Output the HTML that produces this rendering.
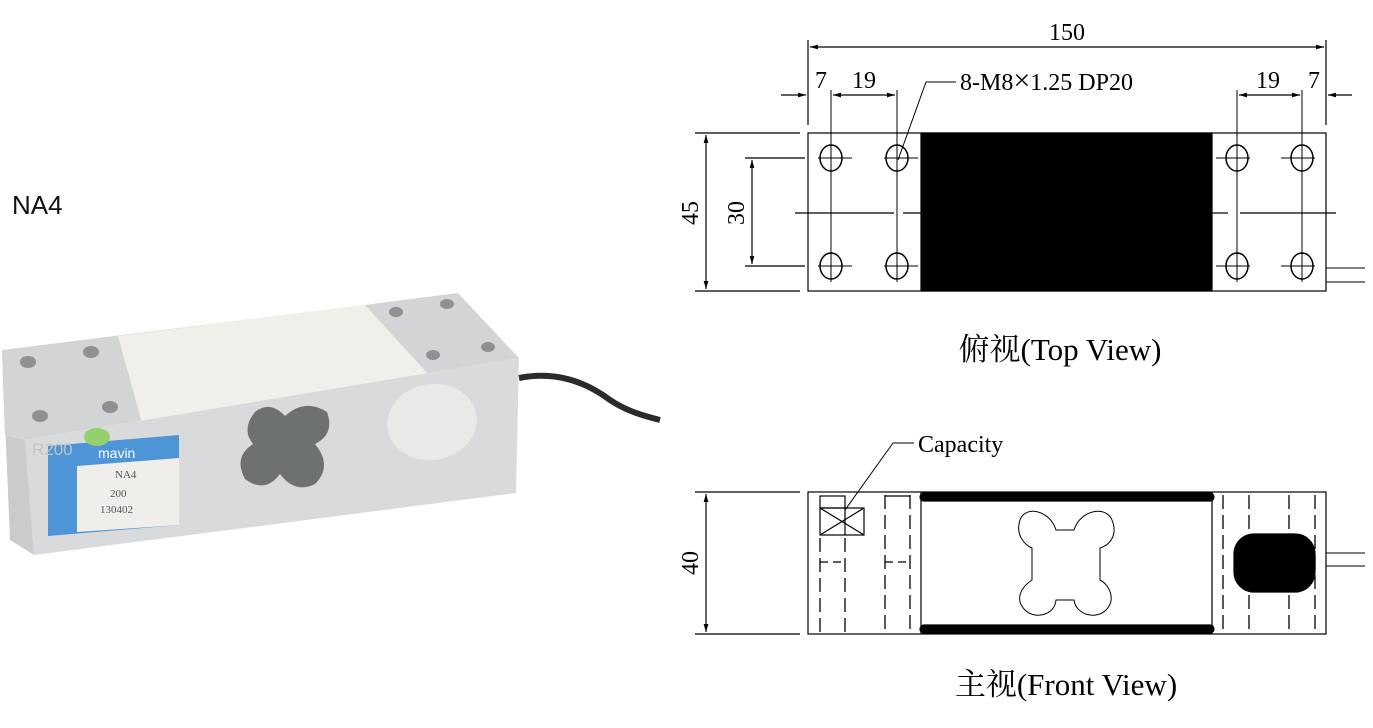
<!DOCTYPE html>
<html><head><meta charset="utf-8"><style>
html,body{margin:0;padding:0;background:#fff;}
svg{display:block;}
</style></head><body>
<svg width="1373" height="728" viewBox="0 0 1373 728" xmlns="http://www.w3.org/2000/svg">
<defs>
<marker id="a" viewBox="0 0 10 10" refX="10" refY="5" markerWidth="12" markerHeight="8" orient="auto-start-reverse" markerUnits="userSpaceOnUse"><path d="M0,2 L10,5 L0,8 z" fill="#000"/></marker>
</defs>
<text x="12" y="214" font-family="Liberation Sans, sans-serif" font-size="26" fill="#111">NA4</text>

<!-- photo -->
<g>
<path d="M519,378 C560,370 590,385 610,400 C625,410 640,415 660,420" stroke="#2a2c2c" stroke-width="6" fill="none"/>
<polygon points="2,350 114,336 365,305 458,293 519,358 25,440 5,435" fill="#d3d4d6"/>
<polygon points="118,336 365,305 430,376 145,434" fill="#f1efea"/>
<polygon points="25,440 519,358 516,493 34,555" fill="#d9dadc"/>
<polygon points="2,350 5,435 25,440 34,555 10,540" fill="#cacbcd"/>
<g fill="#8e9094"><ellipse cx="28" cy="362" rx="8" ry="6"/><ellipse cx="91" cy="352" rx="8" ry="6"/><ellipse cx="40" cy="416" rx="8" ry="6"/><ellipse cx="110" cy="407" rx="8" ry="6"/><ellipse cx="396" cy="312" rx="7" ry="5"/><ellipse cx="447" cy="304" rx="7" ry="5"/><ellipse cx="433" cy="355" rx="7" ry="5"/><ellipse cx="488" cy="347" rx="7" ry="5"/></g>
<polygon points="48,446 179,435 179,525 48,536" fill="#4d95d6"/>
<polygon points="77,466 179,458 179,525 77,532" fill="#efeeea"/>
<text x="98" y="458" font-family="Liberation Sans, sans-serif" font-size="14" fill="#fff">mavin</text>
<text x="115" y="478" font-family="Liberation Serif, serif" font-size="11" fill="#555">NA4</text>
<text x="110" y="497" font-family="Liberation Serif, serif" font-size="11" fill="#555">200</text>
<text x="100" y="513" font-family="Liberation Serif, serif" font-size="11" fill="#555">130402</text>
<text x="32" y="455" font-family="Liberation Sans, sans-serif" font-size="17" fill="#c2c3c5">R200</text>
<ellipse cx="97" cy="437" rx="13" ry="9" fill="#93cf6d"/>
<path d="M255,412 q15,-12 30,4 q20,-18 42,-4 q8,22 -12,32 q18,22 0,40 q-20,10 -35,-10 q-15,20 -35,5 q-12,-22 8,-35 q-12,-15 2,-32z" fill="#6d716f"/>
<ellipse cx="432" cy="422" rx="45" ry="38" fill="#e9e9e8" transform="rotate(-10 432 422)"/>
</g>

<g stroke="#000" fill="none" stroke-width="1.2" font-family="Liberation Serif, serif">
<!-- top view -->
<rect x="808" y="133" width="518" height="158"/>
<rect x="921" y="133" width="291" height="158" fill="#000"/>
<line x1="795" y1="213" x2="894" y2="213"/><line x1="903" y1="213" x2="921" y2="213"/>
<line x1="1212" y1="213" x2="1228" y2="213"/><line x1="1240" y1="213" x2="1336" y2="213"/>
<g stroke-width="1.5">
<ellipse cx="831" cy="158" rx="11" ry="13"/><ellipse cx="897" cy="158" rx="11" ry="13"/>
<ellipse cx="831" cy="266" rx="11" ry="13"/><ellipse cx="897" cy="266" rx="11" ry="13"/>
<ellipse cx="1237" cy="158" rx="11" ry="13"/><ellipse cx="1302" cy="158" rx="11" ry="13"/>
<ellipse cx="1237" cy="266" rx="11" ry="13"/><ellipse cx="1302" cy="266" rx="11" ry="13"/>
</g>
<g stroke-width="1">
<line x1="818" y1="158" x2="852" y2="158"/><line x1="884" y1="158" x2="918" y2="158"/>
<line x1="818" y1="266" x2="852" y2="266"/><line x1="884" y1="266" x2="918" y2="266"/>
<line x1="1216" y1="158" x2="1250" y2="158"/><line x1="1281" y1="158" x2="1315" y2="158"/>
<line x1="1216" y1="266" x2="1250" y2="266"/><line x1="1281" y1="266" x2="1315" y2="266"/>
<line x1="831" y1="90" x2="831" y2="282"/><line x1="897" y1="90" x2="897" y2="282"/>
<line x1="1237" y1="90" x2="1237" y2="282"/><line x1="1302" y1="90" x2="1302" y2="282"/>
</g>
<line x1="808" y1="40" x2="808" y2="125"/><line x1="1326" y1="40" x2="1326" y2="125"/>
<line x1="810" y1="47" x2="1324" y2="47" marker-start="url(#a)" marker-end="url(#a)"/>
<line x1="781" y1="95" x2="806" y2="95" marker-end="url(#a)"/>
<line x1="833" y1="95" x2="895" y2="95" marker-start="url(#a)" marker-end="url(#a)"/>
<line x1="1239" y1="95" x2="1300" y2="95" marker-start="url(#a)" marker-end="url(#a)"/>
<line x1="1352" y1="95" x2="1328" y2="95" marker-end="url(#a)"/>
<polyline points="898,160 926,82 956,82" stroke-width="1"/>
<line x1="695" y1="133" x2="800" y2="133"/><line x1="695" y1="291" x2="800" y2="291"/>
<line x1="706" y1="135" x2="706" y2="289" marker-start="url(#a)" marker-end="url(#a)"/>
<line x1="745" y1="158" x2="805" y2="158"/><line x1="745" y1="266" x2="805" y2="266"/>
<line x1="752" y1="160" x2="752" y2="264" marker-start="url(#a)" marker-end="url(#a)"/>
<path d="M1326,268 H1365 M1326,282 H1365" stroke-width="1"/>

<!-- front view -->
<rect x="808" y="492" width="518" height="142"/>
<path d="M924,493 H1210 a4,4 0 0 1 0,8 H924 a4,4 0 0 1 0,-8z" fill="#000"/>
<path d="M924,625 H1210 a4,4 0 0 1 0,8 H924 a4,4 0 0 1 0,-8z" fill="#000"/>
<line x1="921" y1="492" x2="921" y2="634"/><line x1="1212" y1="492" x2="1212" y2="634"/>
<g stroke-dasharray="14,6" stroke-width="1.3">
<line x1="820" y1="538" x2="820" y2="634"/><line x1="845" y1="538" x2="845" y2="634"/>
<line x1="885" y1="495" x2="885" y2="634"/><line x1="910" y1="495" x2="910" y2="634"/>
<line x1="1223" y1="495" x2="1223" y2="634"/><line x1="1249" y1="495" x2="1249" y2="634"/>
<line x1="1289" y1="495" x2="1289" y2="634"/><line x1="1315" y1="495" x2="1315" y2="634"/>
<line x1="820" y1="562" x2="845" y2="562" stroke-dasharray="8,5"/><line x1="885" y1="562" x2="910" y2="562" stroke-dasharray="8,5"/>
</g>
<line x1="885" y1="496" x2="910" y2="496"/>
<rect x="820" y="496" width="25" height="12"/>
<rect x="820" y="508" width="44" height="27"/>
<line x1="820" y1="508" x2="864" y2="535"/><line x1="820" y1="535" x2="864" y2="508"/>
<line x1="845" y1="508" x2="845" y2="535"/>
<polyline points="845,510 893,443 914,443" stroke-width="1"/>
<path d="M1056,530 C1050,510 1025,505 1020,520 C1015,535 1025,545 1032,548 L1032,580 C1020,588 1015,600 1025,610 C1035,620 1055,615 1056,600 L1074,600 C1076,615 1096,620 1106,610 C1116,600 1110,585 1100,580 L1100,548 C1110,545 1118,535 1112,520 C1106,505 1080,510 1074,530 Z" stroke-width="1"/>
<rect x="1234" y="534" width="81" height="58" rx="20" fill="#000"/>
<path d="M1326,553 H1365 M1326,566 H1365" stroke-width="1"/>
<line x1="695" y1="492" x2="800" y2="492"/><line x1="695" y1="634" x2="800" y2="634"/>
<line x1="706" y1="494" x2="706" y2="632" marker-start="url(#a)" marker-end="url(#a)"/>
</g>

<g font-family="Liberation Serif, 'Noto Serif CJK SC', serif" fill="#000">
<text x="1067" y="40" font-size="24" text-anchor="middle">150</text>
<text x="821" y="88" font-size="24" text-anchor="middle">7</text>
<text x="864" y="88" font-size="24" text-anchor="middle">19</text>
<text x="1268" y="88" font-size="24" text-anchor="middle">19</text>
<text x="1314" y="88" font-size="24" text-anchor="middle">7</text>
<text x="960" y="90" font-size="24">8-M8<tspan font-size="30">×</tspan>1.25 DP20</text>
<text x="918" y="452" font-size="24">Capacity</text>
<text transform="translate(698,213) rotate(-90)" font-size="24" text-anchor="middle">45</text>
<text transform="translate(744,213) rotate(-90)" font-size="24" text-anchor="middle">30</text>
<text transform="translate(698,563) rotate(-90)" font-size="24" text-anchor="middle">40</text>
<text x="1060" y="360" font-size="31" text-anchor="middle">俯视(Top View)</text>
<text x="1066" y="695" font-size="31" text-anchor="middle">主视(Front View)</text>
</g>
</svg>
</body></html>
